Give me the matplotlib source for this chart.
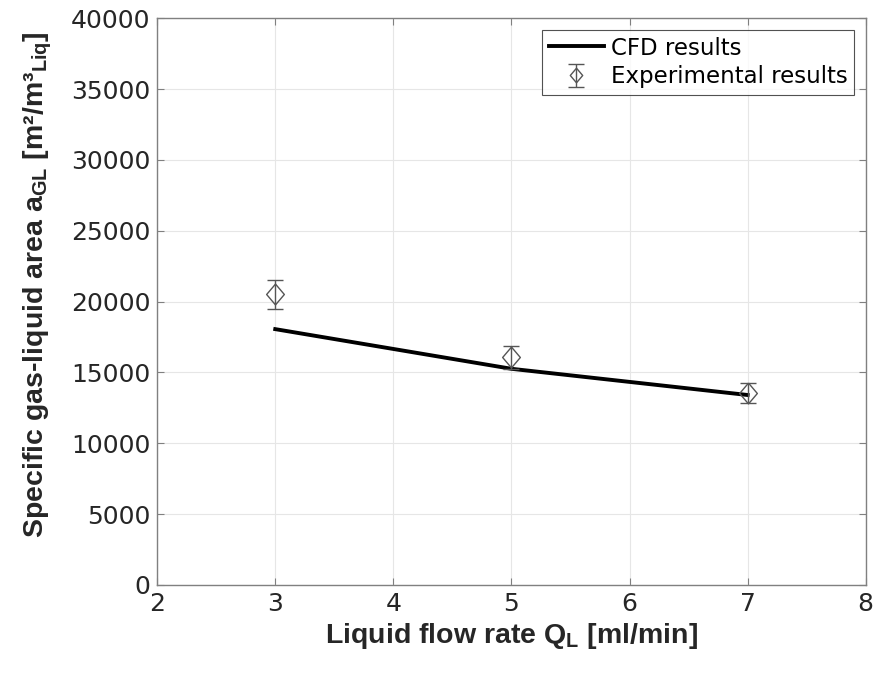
import matplotlib

matplotlib.use("Agg")

import matplotlib.pyplot as plt

# CFD curve
cfd_flow = [3, 5, 7]
cfd_area = [18050, 15250, 13400]

# experiments with error bars
exp_flow = [3, 5, 7]
exp_area = [20500, 16050, 13550]
exp_err = [1000, 800, 700]

x_ticks = [2, 3, 4, 5, 6, 7, 8]
y_ticks = [0, 5000, 10000, 15000, 20000, 25000, 30000, 35000, 40000]

plt.rcParams["mathtext.fontset"] = "custom"
plt.rcParams["mathtext.rm"] = "Liberation Sans:bold"
plt.rcParams["mathtext.it"] = "Liberation Sans:bold"
plt.rcParams["mathtext.bf"] = "Liberation Sans:bold"

# slightly tall open diamond
diamond = [(0, 1), (0.85, 0), (0, -1), (-0.85, 0), (0, 1)]

fig = plt.figure(figsize=(8.78, 6.73), dpi=100)
ax = fig.add_axes([0.179, 0.131, 0.807, 0.842])

ax.plot(cfd_flow, cfd_area, color="black", linewidth=2.8, label="CFD results", zorder=3)
ax.errorbar(
    exp_flow,
    exp_area,
    yerr=exp_err,
    fmt="",
    marker=diamond,
    linestyle="none",
    markersize=15,
    markerfacecolor="none",
    markeredgecolor="#555555",
    markeredgewidth=1.0,
    ecolor="#555555",
    elinewidth=1.0,
    capsize=6,
    capthick=1.0,
    label="Experimental results",
    zorder=4,
)

ax.set_xlim(2, 8)
ax.set_ylim(0, 40000)
ax.set_xticks(x_ticks)
ax.set_yticks(y_ticks)
ax.grid(True, color="#e6e6e6", linewidth=0.8)
ax.set_axisbelow(True)
ax.tick_params(direction="in", length=5, labelsize=18, color="#808080", labelcolor="#262626",
               top=True, right=True, pad=5)
for s in ax.spines.values():
    s.set_color("#808080")
    s.set_linewidth(1.0)

ax.set_xlabel(r"Liquid flow rate Q$_\mathrm{L}$ [ml/min]", fontsize=20.5, fontweight="bold",
              family="Liberation Sans", color="#262626", labelpad=4)
ax.set_ylabel(r"Specific gas-liquid area a$_\mathrm{GL}$ [m²/m³$_\mathrm{Liq}$]", fontsize=20.5,
              fontweight="bold", family="Liberation Sans", color="#262626")
ax.yaxis.set_label_coords(-0.145, 0.53)

leg = ax.legend(loc="upper right", fontsize=16.5, frameon=True, fancybox=False,
                edgecolor="#262626", handlelength=2.4, handletextpad=0.3,
                borderaxespad=0.5, borderpad=0.3, labelspacing=0.25, markerscale=0.7)
leg.get_frame().set_linewidth(0.8)

fig.savefig("out.png", dpi=100)
plt.close(fig)
